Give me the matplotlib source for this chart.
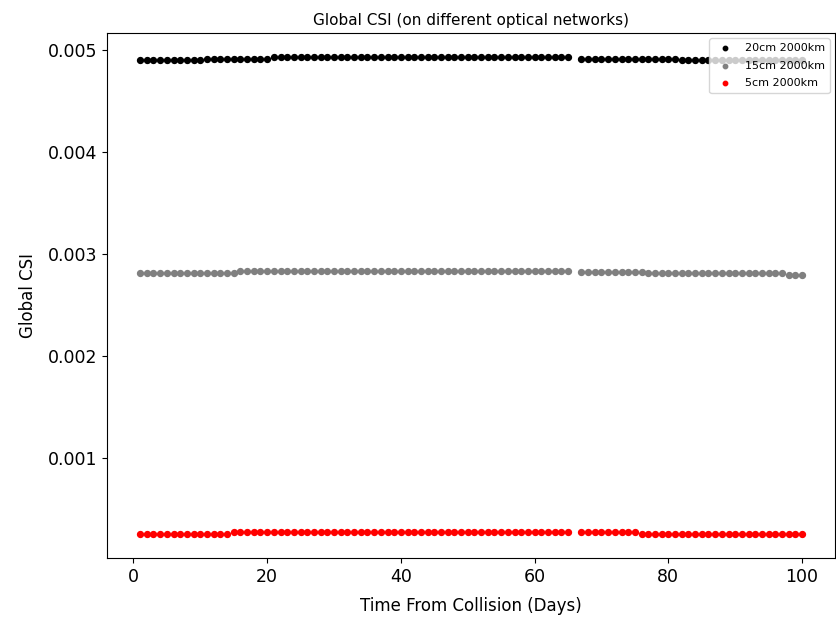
import matplotlib
matplotlib.use("Agg")
import matplotlib.pyplot as plt


# days since the collision (day 66 missing)
days = list(range(1, 66)) + list(range(67, 101))

csi_20cm = [
    0.004906, 0.004906, 0.004906, 0.004906, 0.004906, 0.004906, 0.004906, 0.004906, 0.004906, 0.004906,
    0.004918, 0.004918, 0.004918, 0.004918, 0.004918, 0.004918, 0.004918, 0.004918, 0.004918, 0.004918,
    0.004937, 0.004937, 0.004937, 0.004937, 0.004937, 0.004937, 0.004937, 0.004937, 0.004937, 0.004937,
    0.004937, 0.004937, 0.004937, 0.004937, 0.004937, 0.004937, 0.004937, 0.004937, 0.004937, 0.004937,
    0.004937, 0.004937, 0.004937, 0.004937, 0.004937, 0.004937, 0.004937, 0.004937, 0.004937, 0.004937,
    0.004937, 0.004937, 0.004937, 0.004937, 0.004937, 0.004937, 0.004937, 0.004937, 0.004937, 0.004937,
    0.004937, 0.004937, 0.004937, 0.004937, 0.004937,
    0.004916, 0.004916, 0.004916, 0.004916, 0.004916, 0.004916, 0.004916, 0.004916, 0.004916, 0.004916,
    0.004916, 0.004916, 0.004916, 0.004916, 0.004916,
    0.004902, 0.004902, 0.004902, 0.004902, 0.004902, 0.004902, 0.004902, 0.004902, 0.004902, 0.004902,
    0.004902, 0.004902, 0.004902, 0.004902, 0.004902, 0.004902, 0.004902, 0.004902, 0.004902,
]

csi_15cm = [
    0.002816, 0.002816, 0.002816, 0.002816, 0.002816, 0.002816, 0.002816, 0.002816, 0.002816, 0.002816,
    0.002816, 0.002816, 0.002816, 0.002816, 0.002816,
    0.002835, 0.002835, 0.002835, 0.002835, 0.002835, 0.002835, 0.002835, 0.002835, 0.002835, 0.002835,
    0.002835, 0.002835, 0.002835, 0.002835, 0.002835, 0.002835, 0.002835, 0.002835, 0.002835, 0.002835,
    0.002835, 0.002835, 0.002835, 0.002835, 0.002835, 0.002835, 0.002835, 0.002835, 0.002835, 0.002835,
    0.002835, 0.002835, 0.002835, 0.002835, 0.002835, 0.002835, 0.002835, 0.002835, 0.002835, 0.002835,
    0.002835, 0.002835, 0.002835, 0.002835, 0.002835, 0.002835, 0.002835, 0.002835, 0.002835, 0.002835,
    0.002828, 0.002828, 0.002828, 0.002828, 0.002828, 0.002828, 0.002828, 0.002828, 0.002828, 0.002828,
    0.002816, 0.002816, 0.002816, 0.002816, 0.002816, 0.002816, 0.002816, 0.002816, 0.002816, 0.002816,
    0.002816, 0.002816, 0.002816, 0.002816, 0.002816, 0.002816, 0.002816, 0.002816, 0.002816, 0.002816,
    0.002816,
    0.002799, 0.002799, 0.002799,
]

csi_5cm = [
    0.000256, 0.000256, 0.000256, 0.000256, 0.000256, 0.000256, 0.000256, 0.000256, 0.000256, 0.000256,
    0.000256, 0.000256, 0.000256, 0.000256,
    0.000273, 0.000273, 0.000273, 0.000273, 0.000273, 0.000273, 0.000273, 0.000273, 0.000273, 0.000273,
    0.000273, 0.000273, 0.000273, 0.000273, 0.000273, 0.000273, 0.000273, 0.000273, 0.000273, 0.000273,
    0.000273, 0.000273, 0.000273, 0.000273, 0.000273, 0.000273, 0.000273, 0.000273, 0.000273, 0.000273,
    0.000273, 0.000273, 0.000273, 0.000273, 0.000273, 0.000273, 0.000273, 0.000273, 0.000273, 0.000273,
    0.000273, 0.000273, 0.000273, 0.000273, 0.000273, 0.000273, 0.000273, 0.000273, 0.000273, 0.000273,
    0.000273,
    0.000273, 0.000273, 0.000273, 0.000273, 0.000273, 0.000273, 0.000273, 0.000273, 0.000273,
    0.000256, 0.000256, 0.000256, 0.000256, 0.000256, 0.000256, 0.000256, 0.000256, 0.000256, 0.000256,
    0.000256, 0.000256, 0.000256, 0.000256, 0.000256, 0.000256, 0.000256, 0.000256, 0.000256, 0.000256,
    0.000256, 0.000256, 0.000256, 0.000256, 0.000256,
]

labels = ["20cm 2000km", "15cm 2000km", "5cm 2000km"]
colors = ["black", "grey", "red"]


def main():
    fig = plt.figure(figsize=(8.36, 6.2), dpi=100)
    ax = fig.add_axes([0.128, 0.1, 0.871, 0.847])

    for vals, lab, col in zip([csi_20cm, csi_15cm, csi_5cm], labels, colors):
        ax.scatter(days, vals, s=18, c=col, label=lab)

    ax.set_title("Global CSI (on different optical networks)", fontsize=11)
    ax.set_xlabel("Time From Collision (Days)", fontsize=12, labelpad=8)
    ax.set_ylabel("Global CSI", fontsize=12, labelpad=8)
    ax.tick_params(labelsize=12.5)
    ax.set_yticks([0.001, 0.002, 0.003, 0.004, 0.005])
    ax.legend(loc="upper right", fontsize=8, markerscale=0.75, labelspacing=0.7)

    fig.savefig("out.png", dpi=100)


if __name__ == "__main__":
    main()
